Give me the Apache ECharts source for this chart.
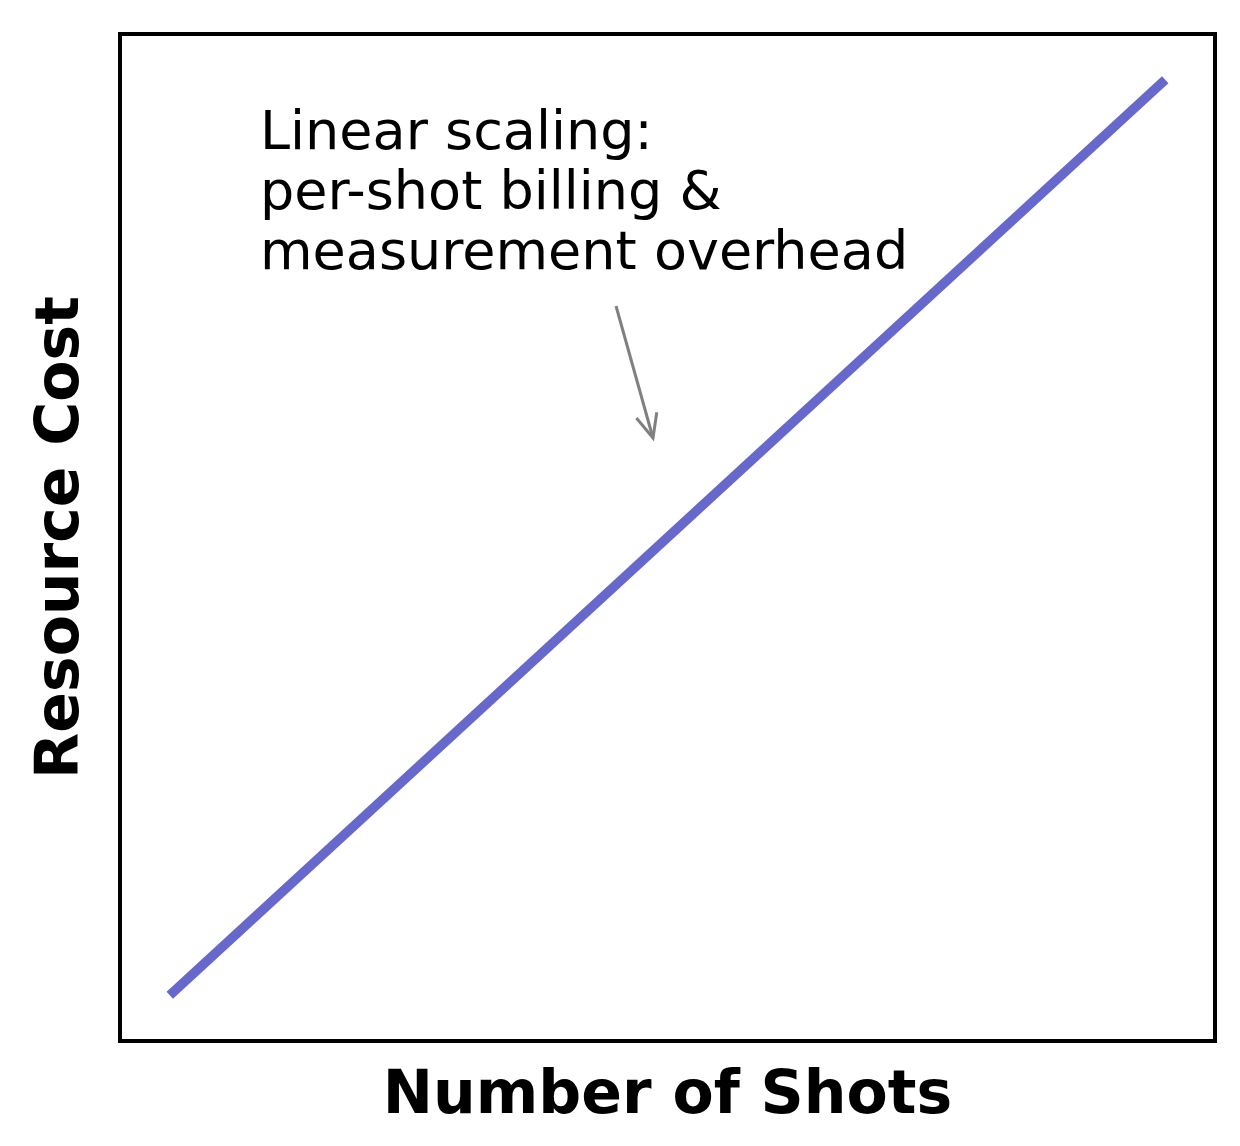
<!DOCTYPE html>
<html>
<head>
<meta charset="utf-8">
<script src="https://cdn.jsdelivr.net/npm/echarts@6/dist/echarts.min.js"></script>
<style>
html,body{margin:0;padding:0;background:#fff;}
#chart{width:1240px;height:1146px;}
</style>
</head>
<body>
<div id="chart"></div>
<script>
var shots = [0, 1];
var cost = [0, 1];
var annotationText = 'Linear scaling:\nper-shot billing &\nmeasurement overhead';
var xLabel = 'Number of Shots';
var yLabel = 'Resource Cost';

var chart = echarts.init(document.getElementById('chart'), null, {renderer: 'canvas'});

// arrow geometry
var ax0 = 616, ay0 = 306, ax1 = 653, ay1 = 438;
var ang = Math.atan2(ay1 - ay0, ax1 - ax0);
var hl = 26, ha = 0.42;
var h1 = [ax1 - hl * Math.cos(ang - ha), ay1 - hl * Math.sin(ang - ha)];
var h2 = [ax1 - hl * Math.cos(ang + ha), ay1 - hl * Math.sin(ang + ha)];

var option = {
  animation: false,
  backgroundColor: '#fff',
  grid: {left: 120, right: 25, top: 34, bottom: 105, containLabel: false, outerBoundsMode: 'none',
         show: true, borderColor: '#000', borderWidth: 4, backgroundColor: '#fff'},
  xAxis: {
    type: 'value', min: -0.05, max: 1.05,
    name: xLabel, nameLocation: 'middle', nameGap: 26,
    nameTextStyle: {fontFamily: 'DejaVu Sans', fontWeight: 'bold', fontSize: 60, color: '#000', verticalAlign: 'top'},
    axisLine: {show: false}, axisTick: {show: false}, axisLabel: {show: false}, splitLine: {show: false}
  },
  yAxis: {
    type: 'value', min: -0.05, max: 1.05,
    name: yLabel, nameLocation: 'middle', nameGap: 28,
    nameTextStyle: {fontFamily: 'DejaVu Sans', fontWeight: 'bold', fontSize: 60, color: '#000'},
    axisLine: {show: false}, axisTick: {show: false}, axisLabel: {show: false}, splitLine: {show: false}
  },
  series: [{
    type: 'line',
    data: shots.map(function (x, i) { return [x, cost[i]]; }),
    showSymbol: false,
    lineStyle: {color: '#6668cc', width: 9.5, cap: 'butt'}
  }],
  graphic: [
    {
      type: 'text', left: 260, top: 105,
      style: {text: annotationText, font: '54px "DejaVu Sans"', fill: '#000', lineHeight: 60}
    },
    {
      type: 'line', shape: {x1: ax0, y1: ay0, x2: ax1, y2: ay1},
      style: {stroke: '#808080', lineWidth: 3}
    },
    {
      type: 'polyline', shape: {points: [h1, [ax1, ay1], h2]},
      style: {stroke: '#808080', lineWidth: 3, fill: null}
    }
  ]
};
chart.setOption(option);
</script>
</body>
</html>
